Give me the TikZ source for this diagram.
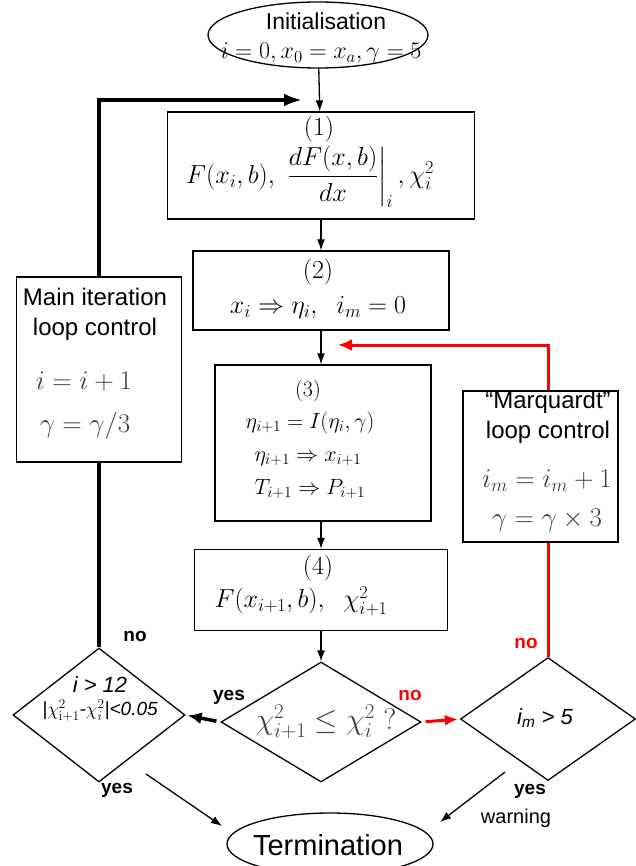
\RequirePackage{fix-cm}
\documentclass[tikz,border=0pt]{standalone}
\usepackage{amsmath}
\usepackage[no-math]{fontspec}
\setmainfont{Liberation Sans}
\usetikzlibrary{shapes.geometric,arrows.meta}

\definecolor{mathgray}{RGB}{60,60,60}

\tikzset{
  box/.style={draw, line width=1.3pt, inner sep=0pt},
  oval/.style={draw, ellipse, line width=1.3pt, inner sep=0pt},
  test/.style={draw, diamond, line width=1.3pt, inner sep=0pt},
  flow/.style={-{Latex[length=11pt,width=8pt]}, line width=1.3pt},
  mainloop/.style={line width=3.5pt},
  redloop/.style={red, line width=3pt},
  boxmath/.style={font=\fontsize{26}{30}\selectfont},
  bigmath/.style={font=\fontsize{27}{30}\selectfont, text=mathgray},
  yesno/.style={font=\fontsize{19}{22}\selectfont\bfseries},
  ctltext/.style={align=center, font=\fontsize{24}{30}\selectfont},
}

\begin{document}
\begin{tikzpicture}[x=1pt, y=-1pt, every node/.style={font=\fontsize{22}{26}\selectfont}]
  \useasboundingbox (0,0) rectangle (636,866);

  % start
  \node[oval, minimum width=220pt, minimum height=66pt] (init) at (318,35) {};
  \node[font=\fontsize{23}{26}\selectfont] (initlbl) at (326,21) {Initialisation};
  \node[font=\fontsize{24}{28}\selectfont] (initval) at (321,53) {$i=0, x_0=x_a, \gamma=5$};

  % steps (1) to (4)
  \node[box, minimum width=307pt, minimum height=107pt] (b1) at (321,165.5) {};
  \node[boxmath] (b1num) at (319,129) {$(1)$};
  \node[boxmath] (b1eq) at (310,177) {$F(x_i,b),\ \left.\dfrac{dF(x,b)}{dx}\right|_i,\chi^2_i$};

  \node[box, minimum width=256pt, minimum height=79pt] (b2) at (321,290.5) {};
  \node[boxmath] (b2num) at (318,272) {$(2)$};
  \node[boxmath] (b2eq) at (318,308) {$x_i\Rightarrow\eta_i,\ \ i_m=0$};

  \node[box, minimum width=216pt, minimum height=156pt] (b3) at (323,443) {};
  \node (b3num) at (308,391) {$(3)$};
  \node (b3eqA) at (310,423) {$\eta_{i+1}=I(\eta_i,\gamma)$};
  \node (b3eqB) at (308,459) {$\eta_{i+1}\Rightarrow x_{i+1}$};
  \node (b3eqC) at (310,489) {$T_{i+1}\Rightarrow P_{i+1}$};

  \node[box, minimum width=253pt, minimum height=81pt] (b4) at (321,590) {};
  \node[boxmath] (b4num) at (318,568) {$(4)$};
  \node[boxmath] (b4eq) at (301,601) {$F(x_{i+1},b),\ \ \chi^2_{i+1}$};

  % loop controls
  \node[box, minimum width=165pt, minimum height=185pt] (mainctl) at (99,369.5) {};
  \node[ctltext] (maintxt) at (95,314) {Main iteration\\loop control};
  \node[bigmath] (mainI) at (84,382) {$i=i+1$};
  \node[bigmath] (mainG) at (85,426) {$\gamma=\gamma/3$};

  \node[box, minimum width=155pt, minimum height=151pt] (marq) at (540.5,466.5) {};
  \node[ctltext] (marqtxt) at (548,417) {“Marquardt”\\loop control};
  \node[bigmath] (marqI) at (547,481) {$i_m=i_m+1$};
  \node[bigmath] (marqG) at (547,520) {$\gamma=\gamma\times3$};

  % tests
  \node[test, minimum width=200pt, minimum height=120pt] (chk) at (321,722) {};
  \node[font=\fontsize{30}{34}\selectfont, text=mathgray] (chktxt) at (326,722) {$\chi^2_{i+1}\le\chi^2_i\ ?$};

  \node[test, minimum width=172pt, minimum height=134pt] (stop) at (99,715) {};
  \node[font=\fontsize{22}{26}\selectfont\itshape] (stopA) at (100,685) {i > 12};
  \node[font=\fontsize{19}{24}\selectfont\itshape] (stopB) at (100,711) {|$\chi^2_{\mathrm{i+1}}$-$\chi^2_i$|<0.05};

  \node[test, minimum width=175pt, minimum height=123pt] (marqchk) at (548,719) {};
  \node[font=\fontsize{22}{26}\selectfont\itshape] (marqchktxt) at (545,718) {i\textsubscript{m} > 5};

  % end
  \node[oval, minimum width=206pt, minimum height=62pt] (term) at (330,844) {};
  \node[font=\fontsize{29}{32}\selectfont] (termtxt) at (328,845) {Termination};

  % main flow
  \draw[flow] (init) -- (b1);
  \draw[flow] (b1) -- (b2);
  \draw[flow] (b2) -- (b3.north -| b2.south);
  \draw[flow] (b3.south -| b2.south) -- (b4);
  \draw[flow] (b4) -- (chk);

  % branches
  \draw[-{Latex[length=14pt,width=12pt]}, line width=3.5pt, shorten <=4pt, shorten >=2pt]
    (chk.west) -- (stop.east);
  \draw[red, -{Latex[length=13pt,width=11pt]}, line width=3pt, shorten <=4pt, shorten >=2pt]
    (chk.east) -- (marqchk.west);

  % Marquardt loop
  \coordinate (merge) at (338,345);
  \draw[redloop] (marqchk.north) -- (marqchk.north |- marq.south);
  \draw[redloop, -{Latex[length=14pt,width=12pt]}] (marqchk.north |- marq.north) |- (merge);

  % main loop
  \coordinate (loopin) at (302,100);
  \draw[mainloop] (stop.north) -- (mainctl.south);
  \draw[mainloop, -{Latex[length=18pt,width=13pt]}] (mainctl.north) |- (loopin);

  % termination
  \coordinate (stopyes) at (146,774);
  \coordinate (termL) at (222,826);
  \draw[flow] (stopyes) -- (termL);
  \coordinate (warnyes) at (505,772);
  \coordinate (termR) at (440,822);
  \draw[flow] (warnyes) -- (termR);

  % labels
  \node[yesno] (lno) at (135,636) {no};
  \node[yesno] (lyes) at (229,697) {yes};
  \node[yesno, red] (mno) at (410,695) {no};
  \node[yesno, red] (rno) at (526,643) {no};
  \node[yesno] (syes) at (117,790) {yes};
  \node[yesno] (wyes) at (530,791) {yes};
  \node[font=\fontsize{20}{24}\selectfont] (warn) at (516,818) {warning};
\end{tikzpicture}
\end{document}
